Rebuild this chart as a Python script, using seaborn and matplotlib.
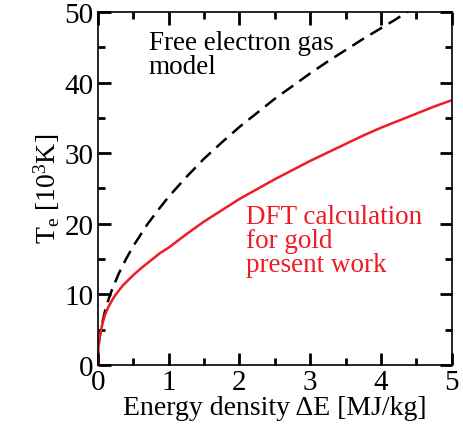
import numpy as np
import pandas as pd
import seaborn as sns
import matplotlib.pyplot as plt
from matplotlib.ticker import MultipleLocator

# values
energy_free = [0.0, 0.01, 0.02, 0.05, 0.1, 0.15, 0.2, 0.3, 0.4, 0.5, 0.7, 0.85, 1.0, 1.25, 1.5,
               1.75, 2.0, 2.25, 2.5, 2.75, 3.0, 3.25, 3.5, 3.75, 4.0, 4.2, 4.4]
temp_free = [0.0, 2.4, 3.4, 5.3, 7.5, 9.2, 10.6, 13.0, 15.0, 16.8, 19.9, 21.9, 23.8, 26.6, 29.2,
             31.5, 33.7, 35.7, 37.7, 39.5, 41.3, 43.0, 44.6, 46.2, 47.7, 48.9, 50.2]

energy_dft = [0.0, 0.002, 0.005, 0.01, 0.02, 0.035, 0.05, 0.075, 0.1, 0.15, 0.2, 0.25, 0.35, 0.5,
              0.625, 0.75, 0.875, 1.0, 1.25, 1.5, 1.75, 2.0, 2.25, 2.5, 2.75, 3.0, 3.25, 3.5,
              3.75, 4.0, 4.25, 4.5, 4.75, 5.0]
temp_dft = [0.0, 1.1, 1.8, 2.5, 3.4, 4.3, 5.1, 6.1, 7.0, 8.2, 9.1, 9.9, 11.2, 12.7,
            13.8, 14.8, 15.8, 16.6, 18.5, 20.3, 21.9, 23.5, 24.9, 26.3, 27.6, 28.9, 30.1, 31.3,
            32.5, 33.6, 34.6, 35.6, 36.6, 37.5]

plt.rcParams['font.family'] = ['Liberation Serif', 'DejaVu Serif']
plt.rcParams['mathtext.fontset'] = 'custom'
plt.rcParams['mathtext.rm'] = 'Liberation Serif'
plt.rcParams['mathtext.it'] = 'Liberation Serif:italic'

free_df = pd.DataFrame({'E': energy_free, 'T': temp_free})
dft_df = pd.DataFrame({'E': energy_dft, 'T': temp_dft})

fig, ax = plt.subplots(figsize=(4.63, 4.31), dpi=100)
fig.subplots_adjust(left=0.211, right=0.976, top=0.970, bottom=0.151)

sns.lineplot(data=free_df, x='E', y='T', ax=ax, color='black', lw=1.8,
             linestyle=(0, (5.5, 3.0)))
sns.lineplot(data=dft_df, x='E', y='T', ax=ax, color='#ee1c25', lw=1.8)

ax.set_xlim(0, 5)
ax.set_ylim(0, 50)
ax.xaxis.set_major_locator(MultipleLocator(1))
ax.xaxis.set_minor_locator(MultipleLocator(0.5))
ax.yaxis.set_major_locator(MultipleLocator(10))
ax.yaxis.set_minor_locator(MultipleLocator(5))
ax.tick_params(which='both', direction='in', top=True, right=True, color='black', width=2)
ax.tick_params(which='major', length=9, labelsize=21, pad=3)
ax.tick_params(which='minor', length=5)
for s in ax.spines.values():
    s.set_linewidth(1.2)

ax.set_xlabel('Energy density \u0394E [MJ/kg]', fontsize=20, labelpad=0)
ax.set_ylabel(r'T$_{\mathrm{e}}$ [10$^{3}$K]', fontsize=20, labelpad=2)

ax.text(0.72, 40.5, 'Free electron gas\nmodel', fontsize=19.5, color='black',
        linespacing=0.95, va='bottom')
ax.text(2.1, 12.4, 'DFT calculation\nfor gold\npresent work', fontsize=19.5,
        color='#ee1c25', linespacing=0.95, va='bottom')

fig.savefig('out.png', dpi=100)
